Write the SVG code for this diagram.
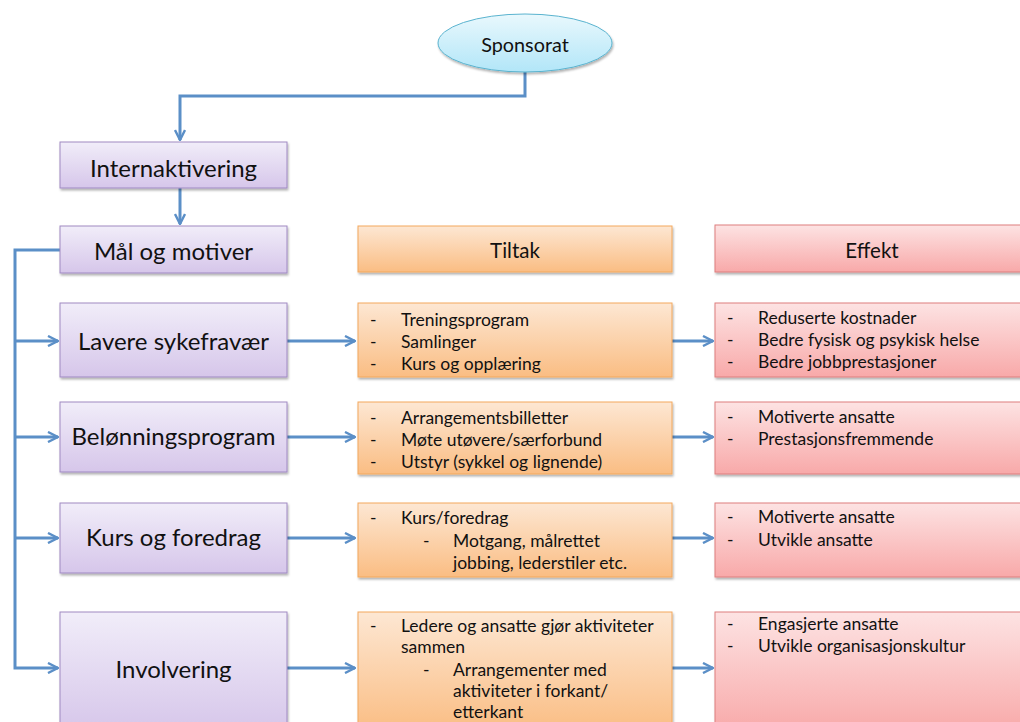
<svg xmlns="http://www.w3.org/2000/svg" width="1020" height="722" viewBox="0 0 1020 722">
  <defs>
    <linearGradient id="gPurple" x1="0" y1="0" x2="0" y2="1">
      <stop offset="0" stop-color="#f1edf9"/>
      <stop offset="1" stop-color="#d6c6ea"/>
    </linearGradient>
    <linearGradient id="gOrange" x1="0" y1="0" x2="0" y2="1">
      <stop offset="0" stop-color="#fde7d3"/>
      <stop offset="1" stop-color="#fabd83"/>
    </linearGradient>
    <linearGradient id="gPink" x1="0" y1="0" x2="0" y2="1">
      <stop offset="0" stop-color="#fde3e3"/>
      <stop offset="1" stop-color="#f8a9a9"/>
    </linearGradient>
    <linearGradient id="gBlue" x1="0" y1="0" x2="0" y2="1">
      <stop offset="0" stop-color="#e9f8fd"/>
      <stop offset="1" stop-color="#b2e6f8"/>
    </linearGradient>
    <filter id="shadow" x="-5%" y="-10%" width="115%" height="130%">
      <feDropShadow dx="1" dy="2" stdDeviation="1.2" flood-color="#000" flood-opacity="0.3"/>
    </filter>
    <marker id="arrow" viewBox="0 0 12 12" refX="11" refY="6" markerWidth="12" markerHeight="12" markerUnits="userSpaceOnUse" orient="auto">
      <path d="M1,1 L11,6 L1,11" fill="none" stroke="#5b8fc7" stroke-width="2.4" stroke-linejoin="miter"/>
    </marker>
    <style>
      .conn { fill: none; stroke: #5b8fc7; stroke-width: 3; }
      .purple { fill: url(#gPurple); stroke: #9f89c2; stroke-width: 1; filter: url(#shadow); }
      .orange { fill: url(#gOrange); stroke: #f3a85c; stroke-width: 1; filter: url(#shadow); }
      .pink { fill: url(#gPink); stroke: #dd7f7f; stroke-width: 1; filter: url(#shadow); }
      .blue { fill: url(#gBlue); stroke: #5ab3cf; stroke-width: 1; filter: url(#shadow); }
      text { font-family: Lato, "Open Sans", "Liberation Sans", sans-serif; fill: #111; }
      .big { font-size: 24px; text-anchor: middle; }
      .head { font-size: 20.5px; text-anchor: middle; }
      .item { font-size: 17.5px; }
    </style>
  </defs>

  <!-- connectors -->
  <g id="connectors">
    <path class="conn" d="M525,72 V96 H180 V140" marker-end="url(#arrow)"/>
    <path class="conn" d="M180,188 V224" marker-end="url(#arrow)"/>
    <path class="conn" d="M60,250 H15 V668 H58" marker-end="url(#arrow)"/>
    <path class="conn" d="M15,341 H58" marker-end="url(#arrow)"/>
    <path class="conn" d="M15,437 H58" marker-end="url(#arrow)"/>
    <path class="conn" d="M15,538 H58" marker-end="url(#arrow)"/>
    <path class="conn" d="M287,341 H355" marker-end="url(#arrow)"/>
    <path class="conn" d="M287,437 H355" marker-end="url(#arrow)"/>
    <path class="conn" d="M287,538 H355" marker-end="url(#arrow)"/>
    <path class="conn" d="M287,668 H355" marker-end="url(#arrow)"/>
    <path class="conn" d="M672,341 H713" marker-end="url(#arrow)"/>
    <path class="conn" d="M672,437 H713" marker-end="url(#arrow)"/>
    <path class="conn" d="M672,538 H713" marker-end="url(#arrow)"/>
    <path class="conn" d="M672,668 H713" marker-end="url(#arrow)"/>
  </g>

  <!-- top -->
  <g id="sponsorat">
    <ellipse class="blue" cx="525" cy="43" rx="87" ry="29"/>
    <text x="525" y="52" class="head" style="font-size:19.8px">Sponsorat</text>
  </g>

  <g id="internaktivering">
    <rect class="purple" x="60" y="142" width="227" height="46"/>
    <text x="173.5" y="177" class="big">Internaktivering</text>
  </g>

  <g id="maal">
    <rect class="purple" x="60" y="226" width="227" height="47"/>
    <text x="173.5" y="260" class="big">Mål og motiver</text>
  </g>

  <g id="tiltak-header">
    <rect class="orange" x="358" y="226" width="314" height="46"/>
    <text x="515" y="258" class="head">Tiltak</text>
  </g>

  <g id="effekt-header">
    <rect class="pink" x="715" y="225" width="315" height="47"/>
    <text x="872" y="258" class="head">Effekt</text>
  </g>

  <!-- row 1 -->
  <g id="lavere">
    <rect class="purple" x="60" y="303" width="227" height="74"/>
    <text x="173.5" y="350" class="big">Lavere sykefravær</text>
  </g>
  <g id="tiltak-1">
    <rect class="orange" x="358" y="303" width="314" height="74"/>
    <text class="item"><tspan x="370" y="326">-</tspan><tspan x="401" y="326">Treningsprogram</tspan></text>
    <text class="item"><tspan x="370" y="348">-</tspan><tspan x="401" y="348">Samlinger</tspan></text>
    <text class="item"><tspan x="370" y="370">-</tspan><tspan x="401" y="370">Kurs og opplæring</tspan></text>
  </g>
  <g id="effekt-1">
    <rect class="pink" x="715" y="303" width="315" height="74"/>
    <text class="item"><tspan x="727" y="324">-</tspan><tspan x="758" y="324">Reduserte kostnader</tspan></text>
    <text class="item"><tspan x="727" y="346">-</tspan><tspan x="758" y="346">Bedre fysisk og psykisk helse</tspan></text>
    <text class="item"><tspan x="727" y="368">-</tspan><tspan x="758" y="368">Bedre jobbprestasjoner</tspan></text>
  </g>

  <!-- row 2 -->
  <g id="belonning">
    <rect class="purple" x="60" y="402" width="227" height="70"/>
    <text x="173.5" y="445" class="big">Belønningsprogram</text>
  </g>
  <g id="tiltak-2">
    <rect class="orange" x="358" y="402" width="314" height="72"/>
    <text class="item"><tspan x="370" y="424">-</tspan><tspan x="401" y="424">Arrangementsbilletter</tspan></text>
    <text class="item"><tspan x="370" y="446">-</tspan><tspan x="401" y="446">Møte utøvere/særforbund</tspan></text>
    <text class="item"><tspan x="370" y="468">-</tspan><tspan x="401" y="468">Utstyr (sykkel og lignende)</tspan></text>
  </g>
  <g id="effekt-2">
    <rect class="pink" x="715" y="402" width="315" height="72"/>
    <text class="item"><tspan x="727" y="423">-</tspan><tspan x="758" y="423">Motiverte ansatte</tspan></text>
    <text class="item"><tspan x="727" y="445">-</tspan><tspan x="758" y="445">Prestasjonsfremmende</tspan></text>
  </g>

  <!-- row 3 -->
  <g id="kurs">
    <rect class="purple" x="60" y="503" width="227" height="70"/>
    <text x="173.5" y="546" class="big">Kurs og foredrag</text>
  </g>
  <g id="tiltak-3">
    <rect class="orange" x="358" y="503" width="314" height="74"/>
    <text class="item"><tspan x="370" y="524">-</tspan><tspan x="401" y="524">Kurs/foredrag</tspan></text>
    <text class="item"><tspan x="423" y="547">-</tspan><tspan x="453" y="547">Motgang, målrettet</tspan></text>
    <text class="item"><tspan x="453" y="569">jobbing, lederstiler etc.</tspan></text>
  </g>
  <g id="effekt-3">
    <rect class="pink" x="715" y="503" width="315" height="74"/>
    <text class="item"><tspan x="727" y="523">-</tspan><tspan x="758" y="523">Motiverte ansatte</tspan></text>
    <text class="item"><tspan x="727" y="546">-</tspan><tspan x="758" y="546">Utvikle ansatte</tspan></text>
  </g>

  <!-- row 4 -->
  <g id="involvering">
    <rect class="purple" x="60" y="612" width="227" height="120"/>
    <text x="173.5" y="678" class="big">Involvering</text>
  </g>
  <g id="tiltak-4">
    <rect class="orange" x="358" y="612" width="314" height="120"/>
    <text class="item"><tspan x="370" y="632">-</tspan><tspan x="401" y="632">Ledere og ansatte gjør aktiviteter</tspan></text>
    <text class="item"><tspan x="401" y="653">sammen</tspan></text>
    <text class="item"><tspan x="423" y="676">-</tspan><tspan x="453" y="676">Arrangementer med</tspan></text>
    <text class="item"><tspan x="453" y="697">aktiviteter i forkant/</tspan></text>
    <text class="item"><tspan x="453" y="718">etterkant</tspan></text>
  </g>
  <g id="effekt-4">
    <rect class="pink" x="715" y="612" width="315" height="120"/>
    <text class="item"><tspan x="727" y="630">-</tspan><tspan x="758" y="630">Engasjerte ansatte</tspan></text>
    <text class="item"><tspan x="727" y="652">-</tspan><tspan x="758" y="652">Utvikle organisasjonskultur</tspan></text>
  </g>
</svg>
